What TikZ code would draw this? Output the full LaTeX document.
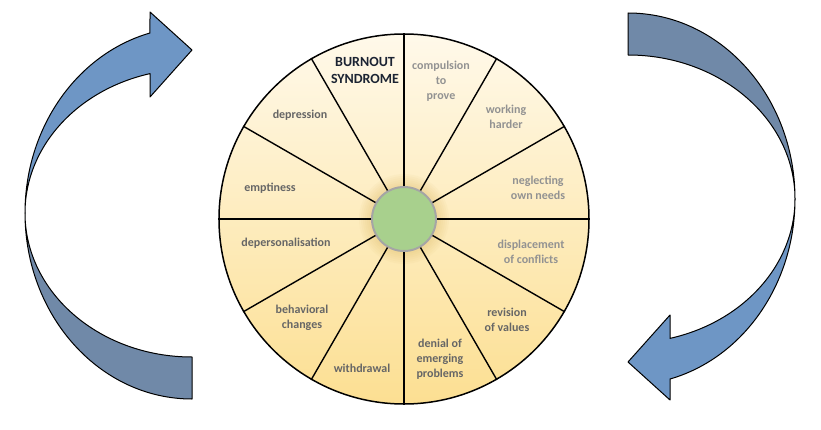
\documentclass[tikz,border=0pt]{standalone}
\usepackage{fontspec}
\setmainfont{Carlito}
\usetikzlibrary{backgrounds}

\definecolor{wheeltop}{HTML}{FFF9EA}
\definecolor{wheelbot}{HTML}{FCDF92}
\definecolor{glowc}{HTML}{D9B45A}
\definecolor{hubfill}{HTML}{A8D08D}
\definecolor{hubline}{HTML}{A5A5A5}
\definecolor{tailblue}{HTML}{7089A8}
\definecolor{headblue}{HTML}{6E96C5}
\definecolor{darklab}{HTML}{666666}
\definecolor{lightlab}{HTML}{929292}
\definecolor{titlec}{HTML}{1C2433}

\tikzset{
  lab/.style={font=\bfseries\fontsize{12}{15}\selectfont, align=center, inner sep=0pt},
  darktext/.style={lab, text=darklab},
  lighttext/.style={lab, text=lightlab},
  titletext/.style={font=\bfseries\fontsize{14}{17}\selectfont, align=center, inner sep=0pt, text=titlec},
  spoke/.style={line width=1.4pt, black},
  ribbon/.style={draw=black, line width=1pt, line join=round},
  % curved ribbon arrow: dark tail, twist at the far side, lighter head
  cyclearrow/.pic={
    \path[ribbon, fill=tailblue]
      (0,-186) arc[start angle=270, end angle=180, x radius=167, y radius=186]
      arc[start angle=180, end angle=270, x radius=167, y radius=144] -- cycle;
    \path[ribbon, fill=headblue]
      (-167,0) arc[start angle=180, end angle=104.57, x radius=167, y radius=186]
      -- (-42,201) -- (0,163) -- (-42,116) -- (-42,139.37)
      arc[start angle=104.57, end angle=180, x radius=167, y radius=144] -- cycle;
  }
}

\begin{document}
\begin{tikzpicture}[x=1pt, y=1pt]
\useasboundingbox (0,0) rectangle (821,429);

\coordinate (C) at (404,210);

% wheel background and soft glow round the hub
\begin{scope}[on background layer]
  \shade[top color=wheeltop, bottom color=wheelbot] (C) circle (185);
  \foreach \r in {45,43,...,33}
    \fill[glowc, opacity=0.06] (C) circle (\r);
\end{scope}

\node[circle, draw, line width=1.5pt, minimum size=370, inner sep=0pt] (rim) at (C) {};
\node[circle, draw=hubline, fill=hubfill, line width=2pt, minimum size=64, inner sep=0pt] (hub) at (C) {};

\foreach \a in {0,30,...,330}
  \draw[spoke] (hub.\a) -- (rim.\a);

% stages
\node[titletext] (burnout) at (365,359) {BURNOUT\\SYNDROME};
\node[lighttext] (compulsion) at (441,348) {compulsion\\to\\prove};
\node[lighttext] (working) at (506,312) {working\\harder};
\node[lighttext] (neglecting) at (538,241) {neglecting\\own needs};
\node[lighttext] (displacement) at (531,177) {displacement\\of conflicts};
\node[darktext] (revision) at (507,109) {revision\\of values};
\node[darktext] (denial) at (440,70) {denial of\\emerging\\problems};
\node[darktext] (withdrawal) at (362,61) {withdrawal};
\node[darktext] (behavioral) at (302,111) {behavioral\\changes};
\node[darktext] (depersonalisation) at (286,186) {depersonalisation};
\node[darktext] (emptiness) at (270,241) {emptiness};
\node[darktext] (depression) at (300,314) {depression};

% cycle arrows on both sides
\pic (leftarrow) at (192,216) {cyclearrow};
\pic[rotate=180] (rightarrow) at (628,230) {cyclearrow};
\end{tikzpicture}
\end{document}
